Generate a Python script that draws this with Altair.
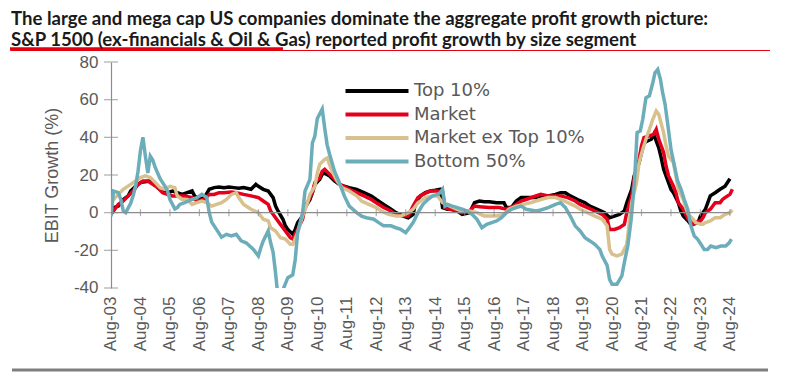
import altair as alt
import pandas as pd

TITLE = ["The large and mega cap US companies dominate the aggregate profit growth picture:",
         "S&P 1500 (ex-financials & Oil & Gas) reported profit growth by size segment"]
SERIES = ["Top 10%", "Market", "Market ex Top 10%", "Bottom 50%"]
COLORS = ["#000000", "#e5001c", "#d8c08f", "#6cadba"]
TICK_LABELS = ["Aug-03", "Aug-04", "Aug-05", "Aug-06", "Aug-07", "Aug-08", "Aug-09",
               "Aug-10", "Aug-11", "Aug-12", "Aug-13", "Aug-14", "Aug-15", "Aug-16",
               "Aug-17", "Aug-18", "Aug-19", "Aug-20", "Aug-21", "Aug-22", "Aug-23", "Aug-24"]
Y_TICKS = [-40, -20, 0, 20, 40, 60, 80]

# (months since Aug-03, EBIT growth %)
top10 = [(0,0),(1,2.7),(3,3.5),(4,5.3),(5,7),(7,8.9),(8,11.5),(10,14),(12,16),(13,16.3),(16,16.8),
         (18,15),(19,13.3),(21,11.5),(23,10.6),(25,11.5),(27,10.6),(29,9.7),(31,10.6),(33,11.5),
         (34,8.9),(36,7),(38,8),(40,12.4),(42,13.3),(44,13.6),(46,13.3),(48,13.6),(50,13.3),(52,13),
         (54,13.3),(57,12.4),(59,15),(60,14),(62,12.4),(64,11.5),(66,8),(67,3.5),(68,0.9),(70,-3.5),
         (71,-7),(72,-8.9),(74,-11.5),(75,-8.9),(76,-5.3),(78,-1.8),(79,2.7),(81,7),(82,10.6),(83,15),
         (85,17.7),(86,20.4),(87,21),(89,19.5),(91,16.8),(93,15),(95,14),(97,13.3),(100,12.4),
         (103,10.6),(106,8.9),(108,7),(111,4.4),(114,1.8),(116,0),(119,-1.8),(121,-2.7),(123,-0.9),
         (124,5.3),(126,8.9),(128,10.6),(130,11.5),(132,11.9),(134,12.4),(135,2.7),(137,1.8),
         (139,1.8),(141,0.9),(143,-0.9),(146,0),(148,5.3),(150,6.2),(152,5.8),(154,5.8),(157,5.3),
         (160,5.3),(161,2.7),(163,2.7),(165,6.2),(167,8),(169,8),(173,8),(175,8.9),(178,8.9),
         (181,9.7),(183,10.6),(185,10.6),(187,8.9),(190,7),(193,5.3),(195,3.5),(198,1.8),(201,0),
         (203,-2.7),(205,-1.8),(207,-0.9),(209,0.9),(210,5.3),(212,12.4),(213,19.5),(215,26.5),
         (216,31.9),(217,37),(218,37.8),(220,39),(221,41.6),(223,34.5),(224,29.2),(225,23),(227,16),
         (228,12.4),(229,10.6),(231,5.3),(232,0.9),(233,-1.8),(235,-4.4),(236,-6.2),(237,-6.2),
         (239,-5.3),(240,-1.8),(242,1.8),(243,5.3),(244,8.9),(246,10.6),(247,11.5),(248,12.4),
         (250,14),(251,16),(252,18)]

market = [(0,-0.9),(1,0.9),(3,4.4),(4,5.3),(5,6.2),(7,8.9),(9,11.5),(11,15),(13,16.8),(15,16.8),
          (17,15),(19,13.3),(21,10.6),(23,9.7),(25,8.9),(27,8.9),(30,8.9),(33,8),(35,6.2),(38,7),
          (40,9.7),(42,9.7),(44,10.6),(46,10.6),(49,11),(51,10.6),(54,9.7),(57,8.9),(60,8),(62,6.2),
          (64,4.4),(65,0.9),(67,-2.7),(69,-6.2),(71,-9.7),(73,-13.3),(74,-14),(76,-8.9),(78,-3.5),
          (79,2.7),(81,8),(82,10.6),(83,16),(85,18.6),(86,22),(87,23),(89,20.4),(91,17.7),(93,15),
          (95,13.8),(97,12.4),(100,10.6),(103,8.9),(106,7),(108,5.3),(111,2.7),(114,0.9),(116,-0.9),
          (119,-1.8),(121,-1.8),(123,3.5),(125,8),(127,9.7),(130,11.5),(133,11.5),(135,11),(136,2.7),
          (138,1.8),(141,0.9),(143,0),(146,0.9),(148,3.5),(150,3.2),(154,2.7),(158,2.7),(161,1.8),
          (164,3.5),(167,6.2),(169,7),(173,8.9),(175,9.7),(178,8.9),(181,8.9),(183,8.9),(186,8),
          (189,6.2),(191,4.4),(194,2.7),(197,0.9),(200,-0.9),(202,-3.5),(203,-8.9),(205,-8.9),
          (207,-8),(209,-6.2),(210,0),(212,8.9),(213,17.7),(215,28.3),(216,35.4),(217,39.8),
          (219,40.7),(221,41.6),(222,44.2),(223,39),(225,31.9),(226,24.8),(227,19.5),(229,14),
          (230,10.6),(231,5.3),(233,1.8),(234,-0.9),(235,-3.5),(237,-6.2),(238,-5.3),(240,-4.4),
          (241,-2.7),(242,0),(244,1.8),(245,3.5),(246,5.3),(248,5.3),(249,7),(250,8),(252,9.7),
          (253,12.4)]

ex_top = [(0,7),(1,7),(3,9.7),(5,12.4),(8,15),(10,16.8),(12,18.6),(14,19.5),(16,18.6),(18,16),
          (20,13.3),(22,12.4),(24,14),(26,13.3),(27,8.9),(29,7),(31,7),(33,4.4),(35,5.3),(37,6.2),
          (39,5.3),(41,3.5),(43,4.4),(45,5.3),(47,7),(49,9.7),(51,10.6),(52,8),(54,4.4),(57,1.8),
          (60,0),(62,-3.5),(64,-4.4),(65,-8),(67,-9.7),(69,-13.3),(71,-14),(73,-16.8),(74,-16.8),
          (76,-10.6),(78,-1.8),(80,5.3),(81,9.7),(83,14),(84,21),(85,25.7),(87,28.3),(88,29),
          (90,22),(92,17),(94,13.3),(97,11.5),(100,8.9),(102,6.2),(105,4.4),(108,2.7),(110,0.9),
          (113,-0.9),(116,-1.8),(118,-1.8),(121,0),(123,1.8),(125,5.3),(128,8),(131,8.9),(133,8.9),
          (135,5.3),(138,3.5),(141,1.8),(143,0.9),(146,0.9),(149,0),(152,-1.8),(154,-1.8),
          (157,-1.8),(160,-0.9),(162,1.8),(165,3.5),(168,4.4),(171,5.3),(173,6.2),(175,7),(178,8),
          (181,8),(183,7),(186,5.3),(189,3.5),(191,1.8),(194,0),(197,-1.8),(200,-3.5),(202,-7),
          (203,-19.5),(204,-22),(206,-23),(208,-22),(210,-16.8),(211,-5.3),(212,5.3),(214,16),
          (215,26.5),(216.5,33.6),(218,39.8),(219,43.4),(220.6,49.6),(222,54),(223,52.2),(225,42.5),
          (226,35.4),(227,30),(229,26.5),(230,19.5),(231,12.4),(233,7),(234,2.7),(235,-0.9),
          (237,-3.5),(238,-5.3),(240,-6.2),(241,-6.2),(242,-5.3),(244,-4.4),(245,-3.5),(246,-2.7),
          (248,-2.7),(249,-1.8),(250,-0.9),(252,0),(253,1.4)]

bottom50 = [(0,-2),(1,11.5),(3,10.6),(4,7),(5,1),(6,0),(8,5),(9,9),(10,14),(11,22),(12,33),(13,40),
            (14,30),(15,21),(16,30),(17,28),(18,24),(20,18),(22,14),(23,11.5),(24,7),(26,2),(27,2.7),
            (28,4.4),(30,5.3),(33,7),(35,8),(37,9.7),(39,8),(40,0),(41,-5),(43,-9),(45,-13),
            (47,-11.5),(49,-12.4),(51,-11.5),(53,-15),(55,-16),(58,-19.5),(60,-23),(61,-18.6),
            (62,-15),(64,-9.7),(65,-16),(66,-21),(67,-32),(68,-45),(70,-41),(72,-34.5),(74,-33),
            (75,-25),(76,-10.6),(78,0),(79,11.5),(81,17.7),(82,37),(83,40.7),(84,50),(86,55),(87,45),
            (88,36),(89,31),(90,26.5),(91,22),(93,16),(94,12.4),(95,8.9),(97,3.5),(100,0),(102,-1.8),
            (104,-2.7),(107,-3.5),(109,-5.3),(111,-7),(114,-7),(116,-8),(118,-8.9),(120,-10.6),
            (121,-8.9),(123,-5.3),(125,0),(127,4.4),(129,7),(131,8.9),(133,9.7),(134,10.6),(135,12.4),
            (136,3.5),(137,4.4),(139,3.5),(141,2.7),(143,1.8),(145,0.9),(147,-0.9),(149,-3.5),
            (151,-8),(153,-6.2),(155,-5.3),(157,-4.4),(159,-2.7),(161,0),(163,1.8),(165,2.7),
            (167,3.5),(169,1.8),(173,0.9),(175,1.4),(178,2.7),(181,4.4),(183,5.3),(185,2.7),
            (187,-1.8),(189,-7),(191,-9.7),(193,-13.3),(195,-15),(197,-16.8),(199,-19.5),(200,-23),
            (202,-28),(203,-35.4),(204,-38),(206,-38),(208,-33.6),(209,-26.5),(210.4,-17.7),
            (211.8,-3.5),(213.1,16),(214.2,42.5),(215.5,43.4),(216.5,49.6),(217.8,61),(219.2,62),
            (220.6,69),(221.5,74.3),(222.6,76),(223.7,70.8),(224.6,63.7),(225.6,57.5),(226.6,47.8),
            (228,33.6),(229.4,24.8),(230.7,16.8),(232.1,12.4),(233.4,7),(234.8,1.8),(236.1,-7),
            (237.5,-12.4),(238.8,-14),(240.2,-16.8),(241.5,-19.5),(242.9,-19.5),(244.2,-17.7),
            (246.3,-18.6),(248.3,-17.7),(250.3,-17.7),(251.7,-16),(252.6,-14)]

rows = []
for name, pts in zip(SERIES, [top10, market, ex_top, bottom50]):
    for m, v in pts:
        rows.append({"series": name, "month": m, "value": v})
df = pd.DataFrame(rows)

tick_months = [12 * i for i in range(len(TICK_LABELS))]
label_expr = "[" + ",".join("'%s'" % t for t in TICK_LABELS) + "][round(datum.value/12)]"

AX_FONT = "Liberation Sans"
GREY = "#595959"
AXIS_GREY = "#8c8c8c"

x_scale = alt.Scale(domain=[0, 255], nice=False, zero=False)
y_scale = alt.Scale(domain=[-40, 80], nice=False, zero=False)

x_axis = alt.Axis(values=tick_months, labelExpr=label_expr, labelAngle=270,
                  labelFont=AX_FONT, labelFontSize=17, labelColor=GREY,
                  labelPadding=8, domain=False, ticks=False, grid=False,
                  title=None, labelOverlap=False, labelFlush=False, labelBound=False)
y_axis = alt.Axis(values=Y_TICKS,
                  labelExpr="datum.value < 0 ? '-' + abs(datum.value) : '' + datum.value",
                  labelFont=AX_FONT, labelFontSize=17,
                  labelColor=GREY, labelPadding=13, domain=True,
                  domainColor=AXIS_GREY, domainWidth=1.2, ticks=False, grid=False,
                  labelOverlap=False, labelFlush=False, labelBound=False,
                  title="EBIT Growth (%)", titleFont=AX_FONT, titleFontSize=18,
                  titleFontWeight="normal", titleColor=GREY, titlePadding=12)

x_enc = alt.X("month:Q", scale=x_scale, axis=x_axis)
y_enc = alt.Y("value:Q", scale=y_scale, axis=y_axis)

color_enc = alt.Color("series:N",
                      scale=alt.Scale(domain=SERIES, range=COLORS),
                      legend=alt.Legend(orient="none", legendX=257, legendY=20, title=None,
                                        symbolType="M-6.3,0H6.3", symbolSize=100,
                                        symbolStrokeWidth=4, labelFont="DejaVu Sans",
                                        labelFontSize=18, labelColor=GREY, rowPadding=5.5,
                                        labelOffset=28, labelLimit=400, padding=0))

line_layers = [
    alt.Chart(df).transform_filter(alt.datum.series == s)
    .mark_line(strokeWidth=3.5, clip=True)
    .encode(x=x_enc, y=y_enc, color=color_enc)
    for s in SERIES
]

zero_df = pd.DataFrame({"month": [0], "month_end": [tick_months[-1]], "value": [0]})
zero_rule = alt.Chart(zero_df).mark_rule(color=AXIS_GREY, strokeWidth=1.2).encode(
    x=x_enc, x2="month_end:Q", y=y_enc)

xt_df = pd.DataFrame({"month": tick_months[1:], "value": [0] * (len(tick_months) - 1)})
x_ticks = alt.Chart(xt_df).mark_tick(
    orient="vertical", size=7, thickness=1.2, color=AXIS_GREY).encode(x=x_enc, y=y_enc)

yt_df = pd.DataFrame({"value": Y_TICKS, "month": [0] * len(Y_TICKS)})
y_ticks = alt.Chart(yt_df).mark_tick(
    orient="horizontal", size=14, thickness=1.2, color=AXIS_GREY).encode(y=y_enc, x=x_enc)

deco = alt.Chart(pd.DataFrame({"a": [0]}))
red_thin = deco.mark_rule(color="#e3000f", strokeWidth=1).encode(
    x=alt.value(-100), x2=alt.value(659), y=alt.value(-11.5))
red_thick = deco.mark_rule(color="#e3000f", strokeWidth=3.5).encode(
    x=alt.value(-101), x2=alt.value(172), y=alt.value(-13))
grey_bottom = deco.mark_rule(color="#7f7f7f", strokeWidth=3).encode(
    x=alt.value(-99), x2=alt.value(657), y=alt.value(308))

chart = alt.layer(*line_layers, zero_rule, x_ticks, y_ticks, red_thin, red_thick, grey_bottom).properties(
    width=626.3, height=226,
    autosize=alt.AutoSizeParams(type="none"),
    padding={"left": 111, "top": 62, "right": 47, "bottom": 88},
    background="white",
    title=alt.TitleParams(text=TITLE, anchor="start", frame="group", dx=-100, offset=-2,
                          font="Lato", fontSize=18.6, fontWeight="bold", color="#1a1a1a",
                          lineHeight=21),
).configure_view(stroke=None)

chart.save("out.html", embed_options={"renderer": "svg", "actions": False})
